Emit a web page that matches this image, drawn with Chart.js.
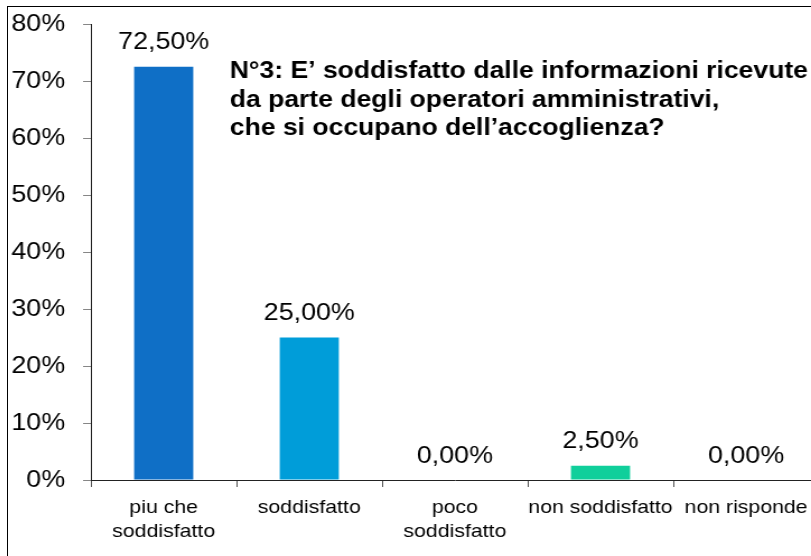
<!DOCTYPE html>
<html>
<head>
<meta charset="utf-8">
<script src="https://cdn.jsdelivr.net/npm/chart.js@4/dist/chart.umd.min.js"></script>
<style>
    html, body { margin: 0; padding: 0; background: #fff; overflow: hidden; width: 811px; height: 556px; }
    .cornice { position: absolute; left: 7px; top: 6px; width: 900px; height: 700px; border-left: 1px solid #000; border-top: 1px solid #000; }
    .grafica { position: absolute; left: 8px; top: 7px; transform: scaleX(1.12); transform-origin: 0 0; }
</style>
</head>
<body>
<div class="cornice"></div>
<div class="grafica">
    <canvas id="myChart" width="724" height="549" style="width:724px;height:549px"></canvas>
</div>
<script>
const categorie = [['piu che', 'soddisfatto'], 'soddisfatto', ['poco', 'soddisfatto'], 'non soddisfatto', 'non risponde']
const percentuali = [72.5, 25, 0, 2.5, 0]
const colori = ['#0F6FC6', '#009DD9', '#0BD0D9', '#10CF9B', '#7CCA62']
const tickY = [0, 10, 20, 30, 40, 50, 60, 70, 80]
const titolo = ['N°3: E’ soddisfatto dalle informazioni ricevute', 'da parte degli operatori amministrativi,', 'che si occupano dell’accoglienza?']

const fontBase = "'Liberation Sans', Arial, sans-serif"

//etichette sopra le barre
const etichette = {
    id: 'etichette',
    afterDatasetsDraw(chart) {
        const ctx = chart.ctx
        const meta = chart.getDatasetMeta(0)
        ctx.save()
        ctx.font = `24px ${fontBase}`
        ctx.fillStyle = '#000'
        ctx.textAlign = 'center'
        ctx.textBaseline = 'alphabetic'
        meta.data.forEach((bar, i) => {
            const testo = percentuali[i].toFixed(2).replace('.', ',') + '%'
            ctx.fillText(testo, bar.x, bar.y - 17.5)
        })
        ctx.restore()
    }
}

//titolo dentro il grafico
const titoloInterno = {
    id: 'titoloInterno',
    afterDraw(chart) {
        const ctx = chart.ctx
        ctx.save()
        ctx.font = `bold 23.7px ${fontBase}`
        ctx.fillStyle = '#000'
        ctx.textAlign = 'left'
        ctx.textBaseline = 'alphabetic'
        titolo.forEach((riga, i) => {
            ctx.fillText(riga, 198, 71 + i * 28.5)
        })
        ctx.restore()
    }
}

const config = {
    type: 'bar',
    data: {
        labels: categorie,
        datasets: [{
            data: percentuali,
            backgroundColor: colori,
            borderWidth: 0,
            categoryPercentage: 1,
            barPercentage: 0.406
        }]
    },
    options: {
        responsive: false,
        animation: false,
        events: [],
        layout: { padding: { top: 17, right: 0, bottom: 0, left: 0 } },
        plugins: {
            legend: { display: false },
            tooltip: { enabled: false },
            title: { display: false }
        },
        scales: {
            x: {
                grid: { display: true, drawOnChartArea: false, drawTicks: true, tickLength: 7, color: '#555' },
                border: { display: true, color: '#222', width: 1 },
                ticks: {
                    color: '#000',
                    font: { family: fontBase, size: 19, lineHeight: 1.24 },
                    padding: 9,
                    maxRotation: 0,
                    autoSkip: false
                },
                afterFit: (scale) => { scale.height = 76 }
            },
            y: {
                min: 0,
                max: 80,
                afterBuildTicks: (scale) => { scale.ticks = tickY.map(v => ({ value: v })) },
                grid: { display: true, drawOnChartArea: false, drawTicks: true, tickLength: 7, color: '#868686' },
                border: { display: true, color: '#222', width: 1 },
                ticks: {
                    color: '#000',
                    font: { family: fontBase, size: 24 },
                    padding: 16,
                    callback: (v) => v + '%'
                },
                afterFit: (scale) => {
                    scale.width = 74
                    scale.paddingTop = 0
                    scale.paddingBottom = 0
                }
            }
        }
    },
    plugins: [etichette, titoloInterno]
}

const myChart = document.getElementById('myChart')
window.myChart = new Chart(myChart, config)
</script>
</body>
</html>
